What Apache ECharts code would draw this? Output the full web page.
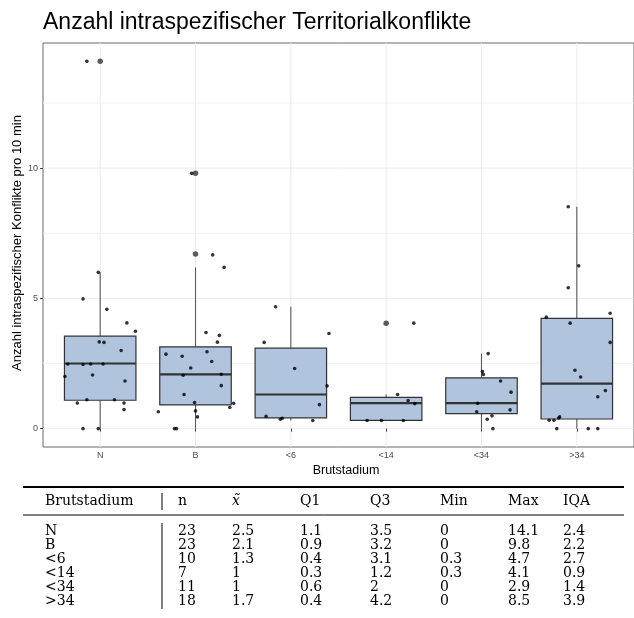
<!DOCTYPE html>
<html>
<head>
<meta charset="utf-8">
<script src="https://cdn.jsdelivr.net/npm/echarts@6/dist/echarts.min.js"></script>
<style>html,body{margin:0;padding:0;background:#fff}#c{width:634px;height:618px}</style>
</head>
<body>
<div id="c"></div>
<script>
// ---------- data ----------
const categories = ['N', 'B', '<6', '<14', '<34', '>34'];
const yTicks = [0, 5, 10];
const yMinorTicks = [2.5, 7.5, 12.5];

// boxplot statistics
const whiskerLow  = [0, 0, 0.31, 0.31, 0, 0];
const q1Box       = [1.09, 0.91, 0.41, 0.32, 0.58, 0.37];
const medianBox   = [2.5, 2.08, 1.31, 0.98, 0.98, 1.73];
const q3Box       = [3.55, 3.14, 3.09, 1.2, 1.95, 4.23];
const whiskerHigh = [6.0, 6.19, 4.68, 1.31, 2.88, 8.52];

// outliers (category index, value)
const outlierCat = [0, 1, 1, 3];
const outlierVal = [14.1, 9.8, 6.7, 4.05];

// jittered raw observations per category: values and horizontal jitter (category units)
const valsN  = [6.0, 4.98, 4.58, 4.06, 3.74, 3.33, 3.31, 3.0, 2.48, 2.46, 2.48, 2.48, 2.0, 2.06, 1.83, 0.98, 1.11, 1.11, 0.98, 0.73, 0, 0, 14.1];
const jitN   = [-0.02, -0.18, 0.07, 0.28, 0.37, -0.01, 0.04, 0.22, -0.34, -0.18, -0.10, 0.03, -0.37, -0.08, 0.26, -0.24, -0.14, 0.15, 0.25, 0.25, -0.18, -0.02, -0.14];
const valsB  = [9.8, 6.67, 6.19, 3.69, 3.58, 3.32, 2.86, 2.78, 2.95, 2.58, 2.33, 2.05, 2.09, 1.65, 1.31, 1.0, 0.97, 0.81, 0.65, 0.68, 0.45, 0, 0];
const jitB   = [-0.04, 0.18, 0.30, 0.11, 0.25, 0.23, -0.31, -0.14, 0.12, 0.17, -0.05, -0.13, 0.27, 0.27, -0.12, -0.01, 0.40, 0.36, -0.39, 0.0, 0.02, -0.22, -0.20];
const vals6  = [4.68, 3.65, 3.31, 2.31, 1.64, 0.92, 0.47, 0.36, 0.40, 0.31];
const jit6   = [-0.16, 0.40, -0.28, 0.04, 0.38, 0.30, -0.26, -0.11, -0.09, 0.23];
const vals14 = [4.05, 1.31, 1.08, 0.96, 0.31, 0.31, 0.31];
const jit14  = [0.29, 0.12, 0.23, 0.30, -0.20, -0.05, 0.18];
const vals34 = [2.88, 2.19, 2.08, 1.83, 1.40, 0.97, 0.65, 0.72, 0.49, 0.36, 0];
const jit34  = [0.07, 0.01, 0.02, 0.20, 0.31, -0.04, -0.05, 0.30, 0.11, 0.06, 0.12];
const valsG34 = [8.52, 6.25, 5.41, 4.43, 4.28, 4.05, 3.31, 2.24, 1.98, 1.46, 1.22, 0.45, 0.41, 0.32, 0.32, 0, 0, 0];
const jitG34  = [-0.09, 0.02, -0.09, 0.35, -0.32, -0.07, 0.35, -0.02, 0.04, 0.30, 0.22, -0.18, -0.19, -0.29, -0.24, -0.21, 0.12, 0.22];

// summary table
const tableHeader = ['Brutstadium', 'n', 'x\u0303', 'Q1', 'Q3', 'Min', 'Max', 'IQA'];
const tabN      = ['23', '23', '10', '7', '11', '18'];
const tabMedian = ['2.5', '2.1', '1.3', '1', '1', '1.7'];
const tabQ1     = ['1.1', '0.9', '0.4', '0.3', '0.6', '0.4'];
const tabQ3     = ['3.5', '3.2', '3.1', '1.2', '2', '4.2'];
const tabMin    = ['0', '0', '0.3', '0.3', '0', '0'];
const tabMax    = ['14.1', '9.8', '4.7', '4.1', '2.9', '8.5'];
const tabIQA    = ['2.4', '2.2', '2.7', '0.9', '1.4', '3.9'];

// ---------- build ----------
const allVals = [valsN, valsB, vals6, vals14, vals34, valsG34];
const allJit  = [jitN, jitB, jit6, jit14, jit34, jitG34];
const points = [];
allVals.forEach((vs, ci) => vs.forEach((v, k) => points.push([ci + 1 + allJit[ci][k], v])));
const boxData = categories.map((c, i) => [i + 1, whiskerLow[i], q1Box[i], medianBox[i], q3Box[i], whiskerHigh[i]]);
const outlierData = outlierCat.map((c, i) => [c + 1, outlierVal[i]]);
const catPos = categories.map((c, i) => i + 1);

function renderBox(params, api) {
  const x = api.value(0);
  const lo = api.coord([x, api.value(1)]);
  const q1 = api.coord([x, api.value(2)]);
  const md = api.coord([x, api.value(3)]);
  const q3 = api.coord([x, api.value(4)]);
  const hi = api.coord([x, api.value(5)]);
  const half = api.size([0.75, 0])[0] / 2;
  const cx = lo[0];
  return {
    type: 'group',
    children: [
      { type: 'line', shape: { x1: cx, y1: lo[1], x2: cx, y2: q1[1] }, style: { stroke: '#5a5a5a', lineWidth: 1.1 } },
      { type: 'line', shape: { x1: cx, y1: q3[1], x2: cx, y2: hi[1] }, style: { stroke: '#5a5a5a', lineWidth: 1.1 } },
      { type: 'rect', shape: { x: cx - half, y: q3[1], width: half * 2, height: q1[1] - q3[1] },
        style: { fill: '#B0C4DE', stroke: '#333333', lineWidth: 1.2 } },
      { type: 'line', shape: { x1: cx - half, y1: md[1], x2: cx + half, y2: md[1] }, style: { stroke: '#333333', lineWidth: 2.2 } }
    ]
  };
}
function renderVGrid(params, api) {
  const cs = params.coordSys;
  const x = api.coord([api.value(0), 0])[0];
  return { type: 'line', shape: { x1: x, y1: cs.y, x2: x, y2: cs.y + cs.height }, style: { stroke: '#ebebeb', lineWidth: 1 } };
}
function makeHGrid(color) {
  return function (params, api) {
    const cs = params.coordSys;
    const y = api.coord([1, api.value(1)])[1];
    return { type: 'line', shape: { x1: cs.x, y1: y, x2: cs.x + cs.width, y2: y }, style: { stroke: color, lineWidth: 1 } };
  };
}

const tableFont = '"DejaVu Serif", "Liberation Serif", serif';
const tableSize = 14;
const colX = [45, 178, 232, 300, 370, 440, 508, 563];
const headerY = 501, firstRowY = 531, rowStep = 14;
const graphics = [];
graphics.push({ type: 'text', x: 43, y: 23, style: { text: 'Anzahl intraspezifischer Territorialkonflikte', font: '23px "Liberation Sans", Arial, sans-serif', fill: '#000', textAlign: 'left', textVerticalAlign: 'middle' } });
graphics.push({ type: 'text', x: 17.5, y: 243, rotation: Math.PI / 2, style: { text: 'Anzahl intraspezifischer Konflikte pro 10 min', font: '13px "Liberation Sans", Arial, sans-serif', fill: '#000', textAlign: 'center', textVerticalAlign: 'middle' } });
graphics.push({ type: 'text', x: 346, y: 471, style: { text: 'Brutstadium', font: '12.5px "Liberation Sans", Arial, sans-serif', fill: '#000', textAlign: 'center', textVerticalAlign: 'middle' } });
// rules
graphics.push({ type: 'line', shape: { x1: 23, y1: 487, x2: 624, y2: 487 }, style: { stroke: '#000', lineWidth: 1.8 } });
graphics.push({ type: 'line', shape: { x1: 23, y1: 515, x2: 624, y2: 515 }, style: { stroke: '#000', lineWidth: 1 } });
graphics.push({ type: 'line', shape: { x1: 162, y1: headerY - 8, x2: 162, y2: headerY + 9 }, style: { stroke: '#000', lineWidth: 1 } });
graphics.push({ type: 'line', shape: { x1: 162, y1: firstRowY - 8, x2: 162, y2: firstRowY + 5 * rowStep + 8 }, style: { stroke: '#000', lineWidth: 1 } });
tableHeader.forEach((h, j) => {
  graphics.push({ type: 'text', x: colX[j], y: headerY, style: { text: h, font: (j === 2 ? 'italic ' : '') + tableSize + 'px ' + tableFont, fill: '#000', textAlign: 'left', textVerticalAlign: 'middle' } });
});
const cols = [categories, tabN, tabMedian, tabQ1, tabQ3, tabMin, tabMax, tabIQA];
cols.forEach((col, j) => col.forEach((t, r) => {
  graphics.push({ type: 'text', x: colX[j], y: firstRowY + r * rowStep, style: { text: t, font: tableSize + 'px ' + tableFont, fill: '#000', textAlign: 'left', textVerticalAlign: 'middle' } });
}));

const chart = echarts.init(document.getElementById('c'), null, { renderer: 'canvas' });
chart.setOption({
  animation: false,
  backgroundColor: '#ffffff',
  grid: { left: 43, top: 43, width: 608, height: 404, show: true, borderColor: '#6a6a6a', borderWidth: 1, backgroundColor: 'transparent' },
  xAxis: {
    type: 'value', min: 0.4, max: 6.6,
    axisLine: { show: false },
    axisTick: { show: true, customValues: catPos, length: 3, lineStyle: { color: '#444', width: 1 } },
    axisLabel: { customValues: catPos, formatter: v => categories[Math.round(v) - 1] || '', color: '#4d4d4d', fontSize: 9, margin: 4, fontFamily: '"Liberation Sans", Arial, sans-serif' },
    splitLine: { show: false }
  },
  yAxis: {
    type: 'value', min: -0.705, max: 14.805,
    axisLine: { show: false },
    axisTick: { show: true, customValues: yTicks, length: 3, lineStyle: { color: '#444', width: 1 } },
    axisLabel: { customValues: yTicks, color: '#4d4d4d', fontSize: 9, margin: 5, fontFamily: '"Liberation Sans", Arial, sans-serif' },
    splitLine: { show: false }
  },
  graphic: graphics,
  series: [
    { type: 'custom', renderItem: makeHGrid('#f2f2f2'), data: yMinorTicks.map(v => [1, v]), encode: { x: 0, y: 1 }, z: 0, silent: true },
    { type: 'custom', renderItem: makeHGrid('#ebebeb'), data: yTicks.map(v => [1, v]), encode: { x: 0, y: 1 }, z: 0, silent: true },
    { type: 'custom', renderItem: renderVGrid, data: catPos.map(v => [v, 0]), encode: { x: 0, y: 1 }, z: 0, silent: true },
    { type: 'custom', renderItem: renderBox, data: boxData, z: 2, encode: { x: 0, y: [1, 2, 3, 4, 5] }, silent: true },
    { type: 'scatter', data: outlierData, z: 3, symbolSize: 5.5, itemStyle: { color: '#333333' }, silent: true },
    { type: 'scatter', data: points, z: 4, symbolSize: 3.6, itemStyle: { color: '#000000' }, silent: true }
  ]
});
</script>
</body>
</html>
